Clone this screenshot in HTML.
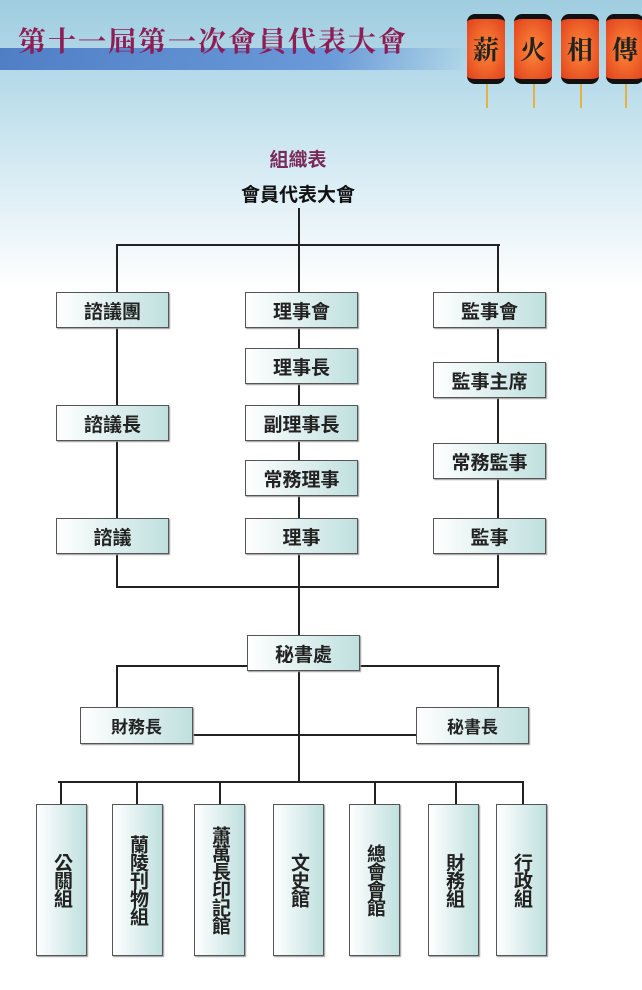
<!DOCTYPE html><html><head><meta charset="utf-8"><style>
body{margin:0;width:642px;height:990px;position:relative;overflow:hidden;background:#fff;font-family:"Liberation Sans","Noto Sans CJK TC",sans-serif}
.bg{position:absolute;left:0;top:0;width:642px;height:290px;background:linear-gradient(#9fcde0 0%,#b9dcea 30%,#d8ecf4 60%,#fff 100%)}
.band{position:absolute;left:0;top:48px;width:470px;height:22px;background:linear-gradient(90deg,#3f6fc0,#5d8fd6 70%,rgba(120,170,230,0));opacity:.85}
.title{position:absolute;left:18px;top:20px;font-size:28px;font-weight:bold;color:#8e1d55;font-family:"Noto Serif CJK SC",serif;letter-spacing:2px}
.lan{position:absolute;top:14px;width:38px;height:60px;background:radial-gradient(#ff8a3a,#e0401c);border-top:5px solid #111;border-bottom:5px solid #111;border-radius:8px;font-size:26px;font-weight:bold;text-align:center;line-height:60px;color:#222;font-family:"Noto Serif CJK SC",serif}
.tas{position:absolute;top:84px;width:2px;height:24px;background:#e8b040}
.l{position:absolute;background:#222}
.b{position:absolute;box-sizing:border-box;border:1.5px solid #555;background:linear-gradient(90deg,#fff,#bfe0df);font-weight:bold;font-size:19px;color:#222;display:flex;align-items:center;justify-content:center;box-shadow:1px 1px 1px #999}
.v{writing-mode:vertical-rl;font-size:19px;letter-spacing:-1px}
</style></head><body>
<div class="bg"></div><div class="band"></div>
<div class="title">第十一屆第一次會員代表大會</div>
<div class="lan" style="left:467px">薪</div><div class="lan" style="left:514px">火</div><div class="lan" style="left:561px">相</div><div class="lan" style="left:606px">傳</div>
<div class="tas" style="left:486px"></div><div class="tas" style="left:533px"></div><div class="tas" style="left:580px"></div><div class="tas" style="left:625px"></div>
<div style="position:absolute;left:0;width:596px;top:145px;text-align:center;font-size:19px;color:#7a2a5a;font-weight:bold">組織表</div>
<div style="position:absolute;left:0;width:596px;top:180px;text-align:center;font-size:19px;font-weight:bold;color:#111">會員代表大會</div>
<div class="l" style="left:298px;top:208px;width:2px;height:427px"></div>
<div class="l" style="left:116px;top:244px;width:384px;height:2px"></div>
<div class="l" style="left:116px;top:244px;width:2px;height:344px"></div>
<div class="l" style="left:497px;top:244px;width:2px;height:344px"></div>
<div class="l" style="left:116px;top:586px;width:383px;height:2px"></div>
<div class="b" style="left:56px;top:292px;width:113px;height:36px">諮議團</div>
<div class="b" style="left:56px;top:405px;width:113px;height:36px">諮議長</div>
<div class="b" style="left:56px;top:518px;width:113px;height:36px">諮議</div>
<div class="b" style="left:245px;top:292px;width:113px;height:36px">理事會</div>
<div class="b" style="left:245px;top:348px;width:113px;height:36px">理事長</div>
<div class="b" style="left:245px;top:405px;width:113px;height:36px">副理事長</div>
<div class="b" style="left:245px;top:460px;width:113px;height:36px">常務理事</div>
<div class="b" style="left:245px;top:518px;width:113px;height:36px">理事</div>
<div class="b" style="left:433px;top:292px;width:113px;height:36px">監事會</div>
<div class="b" style="left:433px;top:362px;width:113px;height:36px">監事主席</div>
<div class="b" style="left:433px;top:443px;width:113px;height:36px">常務監事</div>
<div class="b" style="left:433px;top:518px;width:113px;height:36px">監事</div>
<div class="l" style="left:116px;top:665px;width:384px;height:2px"></div>
<div class="l" style="left:116px;top:665px;width:2px;height:42px"></div>
<div class="l" style="left:497px;top:665px;width:2px;height:42px"></div>
<div class="l" style="left:192px;top:734px;width:224px;height:2px"></div>
<div class="l" style="left:298px;top:670px;width:2px;height:112px"></div>
<div class="b" style="left:247px;top:635px;width:113px;height:36px">秘書處</div>
<div class="b" style="left:80px;top:707px;width:113px;height:37px;font-size:17px">財務長</div>
<div class="b" style="left:416px;top:707px;width:113px;height:37px;font-size:17px">秘書長</div>
<div class="l" style="left:58px;top:781px;width:466px;height:2px"></div>
<div class="l" style="left:60px;top:781px;width:2px;height:23px"></div>
<div class="l" style="left:136px;top:781px;width:2px;height:23px"></div>
<div class="l" style="left:219px;top:781px;width:2px;height:23px"></div>
<div class="l" style="left:374px;top:781px;width:2px;height:23px"></div>
<div class="l" style="left:455px;top:781px;width:2px;height:23px"></div>
<div class="l" style="left:522px;top:781px;width:2px;height:23px"></div>
<div class="b v" style="left:36px;top:804px;width:51px;height:152px">公關組</div>
<div class="b v" style="left:112px;top:804px;width:51px;height:152px">蘭陵刊物組</div>
<div class="b v" style="left:194px;top:804px;width:51px;height:152px">蕭萬長印記館</div>
<div class="b v" style="left:273px;top:804px;width:51px;height:152px">文史館</div>
<div class="b v" style="left:349px;top:804px;width:51px;height:152px">總會會館</div>
<div class="b v" style="left:428px;top:804px;width:51px;height:152px">財務組</div>
<div class="b v" style="left:496px;top:804px;width:51px;height:152px">行政組</div>
</body></html>
